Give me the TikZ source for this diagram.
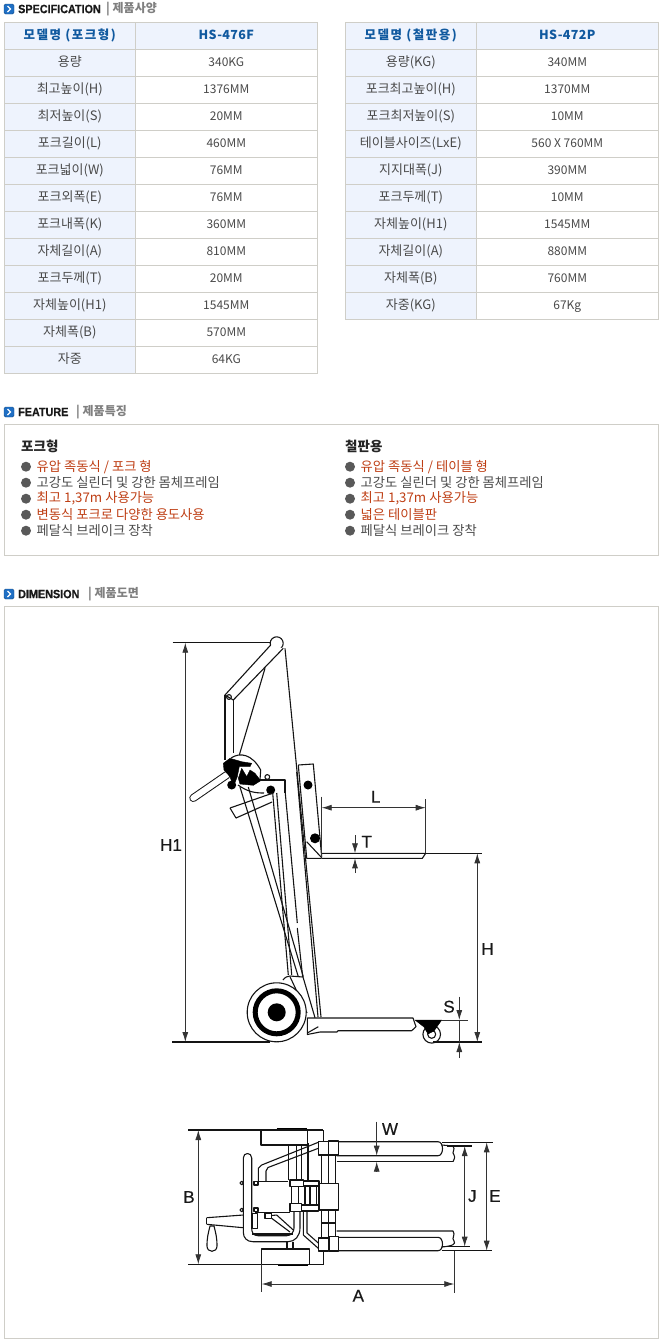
\documentclass[tikz,border=0pt]{standalone}
\usepackage{fontspec}
\setmainfont{Noto Sans CJK KR}
\newfontfamily\headfont[LetterSpace=12]{Noto Sans CJK KR}
\newfontfamily\headvalfont[LetterSpace=3]{Noto Sans CJK KR}
\newfontfamily\titlefont[FakeStretch=0.9,FakeBold=0.6]{Liberation Sans}
\newfontfamily\dimfont[FakeBold=0.5]{Liberation Sans}
\usetikzlibrary{arrows.meta}
\definecolor{cellline}{HTML}{CFCEC8}
\definecolor{cellfill}{HTML}{EEF3FD}
\definecolor{headblue}{HTML}{10599F}
\definecolor{bodygrey}{HTML}{4A4A4A}
\definecolor{featred}{HTML}{BE3E14}
\definecolor{iconblue}{HTML}{1F6FC4}
\tikzset{
    namecell/.style={draw=cellline, fill=cellfill, line width=1pt, inner sep=0pt,
    	minimum width=131pt, minimum height=27pt, text height=10pt, text depth=3.5pt,
    	text=bodygrey, font=\fontsize{13}{13}\selectfont}
}
\tikzset{
    valcell/.style={namecell, fill=white, minimum width=182pt, font=\fontsize{12}{12}\selectfont}
}
\tikzset{
    headname/.style={namecell, text=headblue, font=\headfont\fontsize{12.5}{12}\selectfont\bfseries}
}
\tikzset{
    headval/.style={valcell, fill=cellfill, text=headblue, font=\headvalfont\fontsize{12.5}{12}\selectfont\bfseries}
}
\tikzset{
    sectitle/.style={anchor=west, inner sep=0pt, text=black!90, font=\titlefont\fontsize{12}{12}\selectfont\bfseries},
    secsub/.style={anchor=west, inner sep=0pt, text=black!50, font=\fontsize{12}{12}\selectfont\bfseries},
    icon/.style={fill=iconblue, draw=iconblue!70!black, rounded corners=1.5pt, inner sep=0pt, minimum size=10pt},
    chevron/.style={draw=white, line width=1.2pt},
    frame/.style={draw=cellline, line width=1pt},
    feathead/.style={anchor=west, inner sep=0pt, text=black!85, font=\fontsize{13.5}{13.5}\selectfont\bfseries},
    greyline/.style={anchor=west, inner sep=0pt, text=bodygrey, font=\fontsize{13.3}{13.3}\selectfont},
    redline/.style={greyline, text=featred},
    bullet/.style={circle, fill=black!65, inner sep=0pt, minimum size=10pt},
    mech/.style={draw=black!92, line width=1.1pt, line join=round},
    solidpart/.style={fill=black, draw=black, line join=round},
    dimline/.style={draw=black!80, line width=.8pt},
    dimarrow/.style={dimline, -{Latex[length=10pt,width=6pt]}},
    dimboth/.style={dimline, {Latex[length=10pt,width=6pt]}-{Latex[length=10pt,width=6pt]}},
    dimlabel/.style={inner sep=0pt, text=black!90, font=\dimfont\fontsize{17}{17}\selectfont}
}

\begin{document}
\begin{tikzpicture}[x=1pt,y=-1pt]
	\useasboundingbox (0,0) rectangle (665,1344);

	\node (icon1) [icon] at (9,9) {};
	\draw [chevron] (7.5,6) -- (10.5,9) -- (7.5,12);
	\node (title1) [sectitle] at (18,9) {SPECIFICATION};
	\node (sub1) [secsub] at (106,9) {| 제품사양};

	\node (a0) [headname] at (69.8,35.8) {모델명 (포크형)};
	\node (av0) [headval] at (226.3,35.8) {HS-476F};
	\node (a1) [namecell] at (69.8,62.8) {용량};
	\node (av1) [valcell] at (226.3,62.8) {340KG};
	\node (a2) [namecell] at (69.8,89.8) {최고높이(H)};
	\node (av2) [valcell] at (226.3,89.8) {1376MM};
	\node (a3) [namecell] at (69.8,116.8) {최저높이(S)};
	\node (av3) [valcell] at (226.3,116.8) {20MM};
	\node (a4) [namecell] at (69.8,143.8) {포크길이(L)};
	\node (av4) [valcell] at (226.3,143.8) {460MM};
	\node (a5) [namecell] at (69.8,170.8) {포크넓이(W)};
	\node (av5) [valcell] at (226.3,170.8) {76MM};
	\node (a6) [namecell] at (69.8,197.8) {포크외폭(E)};
	\node (av6) [valcell] at (226.3,197.8) {76MM};
	\node (a7) [namecell] at (69.8,224.8) {포크내폭(K)};
	\node (av7) [valcell] at (226.3,224.8) {360MM};
	\node (a8) [namecell] at (69.8,251.8) {자체길이(A)};
	\node (av8) [valcell] at (226.3,251.8) {810MM};
	\node (a9) [namecell] at (69.8,278.8) {포크두께(T)};
	\node (av9) [valcell] at (226.3,278.8) {20MM};
	\node (a10) [namecell] at (69.8,305.8) {자체높이(H1)};
	\node (av10) [valcell] at (226.3,305.8) {1545MM};
	\node (a11) [namecell] at (69.8,332.8) {자체폭(B)};
	\node (av11) [valcell] at (226.3,332.8) {570MM};
	\node (a12) [namecell] at (69.8,359.8) {자중};
	\node (av12) [valcell] at (226.3,359.8) {64KG};

	\node (b0) [headname] at (410.8,35.8) {모델명 (철판용)};
	\node (bv0) [headval] at (567.3,35.8) {HS-472P};
	\node (b1) [namecell] at (410.8,62.8) {용량(KG)};
	\node (bv1) [valcell] at (567.3,62.8) {340MM};
	\node (b2) [namecell] at (410.8,89.8) {포크최고높이(H)};
	\node (bv2) [valcell] at (567.3,89.8) {1370MM};
	\node (b3) [namecell] at (410.8,116.8) {포크최저높이(S)};
	\node (bv3) [valcell] at (567.3,116.8) {10MM};
	\node (b4) [namecell] at (410.8,143.8) {테이블사이즈(LxE)};
	\node (bv4) [valcell] at (567.3,143.8) {560 X 760MM};
	\node (b5) [namecell] at (410.8,170.8) {지지대폭(J)};
	\node (bv5) [valcell] at (567.3,170.8) {390MM};
	\node (b6) [namecell] at (410.8,197.8) {포크두께(T)};
	\node (bv6) [valcell] at (567.3,197.8) {10MM};
	\node (b7) [namecell] at (410.8,224.8) {자체높이(H1)};
	\node (bv7) [valcell] at (567.3,224.8) {1545MM};
	\node (b8) [namecell] at (410.8,251.8) {자체길이(A)};
	\node (bv8) [valcell] at (567.3,251.8) {880MM};
	\node (b9) [namecell] at (410.8,278.8) {자체폭(B)};
	\node (bv9) [valcell] at (567.3,278.8) {760MM};
	\node (b10) [namecell] at (410.8,305.8) {자중(KG)};
	\node (bv10) [valcell] at (567.3,305.8) {67Kg};

	\node (icon2) [icon] at (9,412) {};
	\draw [chevron] (7.5,409) -- (10.5,412) -- (7.5,415);
	\node (title2) [sectitle] at (18,412) {FEATURE};
	\node (sub2) [secsub] at (76,412) {| 제품특징};
	\draw [frame] (4.3,424.3) rectangle (658.3,555.3);

	\node (fa) [feathead] at (21,446) {포크형};
	\node (fab1) [bullet] at (26,466.7) {};
	\node (fa1) [redline] at (36.5,466.7) {유압 족동식 / 포크 형};
	\node (fab2) [bullet] at (26,482.7) {};
	\node (fa2) [greyline] at (36.5,482.7) {고강도 실린더 및 강한 몸체프레임};
	\node (fab3) [bullet] at (26,498.7) {};
	\node (fa3) [redline] at (36.5,498.7) {최고 1,37m 사용가능};
	\node (fab4) [bullet] at (26,514.7) {};
	\node (fa4) [redline] at (36.5,514.7) {변동식 포크로 다양한 용도사용};
	\node (fab5) [bullet] at (26,530.7) {};
	\node (fa5) [greyline] at (36.5,530.7) {페달식 브레이크 장착};

	\node (fb) [feathead] at (345,446) {철판용};
	\node (fbb1) [bullet] at (350,466.7) {};
	\node (fb1) [redline] at (360.5,466.7) {유압 족동식 / 테이블 형};
	\node (fbb2) [bullet] at (350,482.7) {};
	\node (fb2) [greyline] at (360.5,482.7) {고강도 실린더 및 강한 몸체프레임};
	\node (fbb3) [bullet] at (350,498.7) {};
	\node (fb3) [redline] at (360.5,498.7) {최고 1,37m 사용가능};
	\node (fbb4) [bullet] at (350,514.7) {};
	\node (fb4) [redline] at (360.5,514.7) {넓은 테이블판};
	\node (fbb5) [bullet] at (350,530.7) {};
	\node (fb5) [greyline] at (360.5,530.7) {페달식 브레이크 장착};

	\node (icon3) [icon] at (9,594) {};
	\draw [chevron] (7.5,591) -- (10.5,594) -- (7.5,597);
	\node (title3) [sectitle] at (18,594) {DIMENSION};
	\node (sub3) [secsub] at (88,594) {| 제품도면};
	\draw [frame] (4.3,606.7) rectangle (658.3,1338);

	% side view
	\draw [mech] (276.7,643.3) circle (6.5);
	\draw [mech, fill=white] (270.7,645) -- (225,695) -- (233.3,700) -- (283.3,648.3);
	\draw [mech] (229,697) circle (2.4);
	\draw [mech] (225,695) -- (225,760);
	\draw [mech] (233.3,700) -- (233.3,753);
	\draw [mech] (265,668.3) -- (239.3,755);
	\draw [mech] (285,648.3) -- (321,1017);
	\draw [mech] (296.7,772) -- (318,1017);
	\draw [mech] (298.3,765) -- (313.3,764) -- (321.7,857);
	\draw [mech] (298.3,765) -- (306.7,858.3) -- (321.7,858.3);
	\draw [mech] (306.7,841.7) -- (321.7,857.7);
	\fill [black] (308,785) circle (4.5);
	\fill [black] (315,838.3) circle (5);
	\draw [mech] (321.7,853.3) -- (425.7,853.3) -- (422.3,858.3) -- (321.7,858.3);

	\draw [black!92, line width=8pt, line cap=round] (226.7,775) -- (193.3,798);
	\draw [white, line width=6pt, line cap=round] (226.7,775) -- (193.3,798);
	\draw [mech] (231,758) .. controls (240,752) and (252,754) .. (260.7,770) -- (260,780);
	\draw [solidpart] (223.3,763.3) -- (230,758.3) -- (241.7,761.7) -- (251.7,763.3) -- (250,766.7) -- (239.3,766.7) -- (237.3,776.7) -- (233.3,786.7) -- (230,776.7) -- (224,770) -- cycle;
	\draw [solidpart] (238.3,778.3) -- (241.7,768.3) -- (246.7,776.7) -- (250,770) -- (255,773.3) -- (260.7,780.7) -- (253.3,785.3) -- (240,784) -- cycle;
	\fill [black] (231.7,785) circle (4.5);
	\fill [black] (270.7,790) circle (4.5);
	\draw [mech] (267.3,777) circle (2.4);
	\draw [mech] (260,780) -- (285,780) -- (285,793);
	\draw [mech] (238,785) .. controls (248,792) and (255,793) .. (264,793);
	\draw [mech] (230,808) -- (273,793);
	\draw [mech] (230,808) -- (236,818) -- (272,802);

	\draw [mech] (240,787) -- (298.3,976.7);
	\draw [mech] (248.3,787) -- (303.3,976.7);
	\draw [mech] (272.7,793) -- (288.3,975);
	\draw [mech] (276.7,793) -- (291.7,975);
	\draw [mech] (285,790) -- (297.3,923);
	\draw [mech] (297.3,928) -- (302.7,977);
	\draw [mech] (283,980) .. controls (285,977) and (288,976) .. (290,976) -- (302.7,977);
	\draw [mech] (290,976.7) -- (307,1013);
	\draw [mech] (303,977) -- (315,1017.7);

	\draw [mech, fill=white] (276.7,1012.3) circle (29.5);
	\draw [black, line width=5pt] (276.7,1012.3) circle (21.5);
	\fill [black] (276.7,1012.3) circle (9);

	\draw [mech] (307.3,1018) -- (413,1018) -- (416,1026.7) -- (411.7,1030.7) -- (338,1030.7) -- (337,1032) -- (320,1032) -- (307.3,1034.5) -- cycle;
	\draw [mech] (307.3,1033) -- (318.3,1026.7);
	\draw [mech, fill=white] (431.7,1034.3) circle (8.8);
	\draw [mech] (431.7,1034.3) circle (4);
	\draw [solidpart] (415,1020) -- (441.7,1020) -- (434,1031) -- (428,1034) -- (424,1027) -- cycle;

	% dimensions of the side view
	\coordinate (h1top) at (185.3,642.7);
	\coordinate (h1bot) at (185.3,1042);
	\coordinate (h1ext) at (172.7,642.7);
	\coordinate (h1knob) at (270,642.7);
	\coordinate (gnd1) at (172,1042);
	\coordinate (gnd2) at (270,1042);
	\coordinate (gnd3) at (433,1042);
	\coordinate (gnd4) at (482,1042);
	\draw [mech] (h1ext) -- (h1knob);
	\draw [mech] (gnd1) -- (gnd2);
	\draw [mech] (gnd3) -- (gnd4);
	\draw [dimboth] (h1top) -- (h1bot);
	\node (h1lab) [dimlabel] at (171,845) {H1};

	\coordinate (lext1) at (321.7,796.7);
	\coordinate (lext2) at (321.7,857);
	\coordinate (rext1) at (425.7,799);
	\coordinate (rext2) at (425.7,853);
	\coordinate (llft) at (321.7,807.7);
	\coordinate (lrgt) at (425.7,807.7);
	\draw [dimline] (lext1) -- (lext2);
	\draw [dimline] (rext1) -- (rext2);
	\draw [dimboth] (llft) -- (lrgt);
	\node (llab) [dimlabel] at (375.7,796.7) {L};

	\coordinate (ttop) at (355,835);
	\coordinate (ttip) at (355,853.3);
	\coordinate (bbot) at (355,873);
	\coordinate (btip) at (355,858.3);
	\draw [dimarrow] (ttop) -- (ttip);
	\draw [dimarrow] (bbot) -- (btip);
	\node (tlab) [dimlabel] at (366.7,841.7) {T};

	\coordinate (forkend) at (425.7,853.3);
	\coordinate (hext) at (482,853.3);
	\coordinate (htop) at (477.3,853.3);
	\coordinate (hbot) at (477.3,1042);
	\draw [mech] (forkend) -- (hext);
	\draw [dimboth] (htop) -- (hbot);
	\node (hlab) [dimlabel] at (487.5,949) {H};

	\coordinate (stop) at (459.3,996.7);
	\coordinate (stip) at (459.3,1020);
	\coordinate (sbot) at (459.3,1058);
	\coordinate (sbtip) at (459.3,1042);
	\coordinate (sext1) at (441.7,1020);
	\coordinate (sext2) at (468,1020);
	\draw [dimline] (sext1) -- (sext2);
	\draw [dimarrow] (stop) -- (stip);
	\draw [dimarrow] (sbot) -- (sbtip);
	\draw [dimline] (stip) -- (sbtip);
	\node (slab) [dimlabel] at (449,1006.7) {S};

	% top view
	\draw [mech] (261,1130) rectangle (307.7,1145);
	\draw [black, line width=1.8pt] (276.7,1128.5) -- (306.7,1128.5);
	\draw [mech] (323.3,1130) -- (323.3,1142);
	\draw [mech] (261.7,1249) rectangle (309.3,1264.3);
	\draw [black, line width=1.8pt] (278,1265) -- (308,1265);
	\draw [mech] (323.5,1252) -- (323.5,1264.3);

	\draw [mech] (338,1141.7) -- (438,1141.7) .. controls (444,1141.7) and (444,1155.7) .. (438,1155.7) -- (336.7,1155.7);
	\draw [mech] (336.7,1161.7) -- (453,1161.7);
	\draw [mech] (441.7,1145) -- (453,1146) .. controls (456,1150) and (451,1152) .. (454,1155) .. controls (456,1158) and (453,1160) .. (453,1161.7);
	\draw [mech] (336.7,1231) -- (453,1231) .. controls (456,1235) and (451,1238) .. (454,1241) .. controls (456,1244) and (453,1246) .. (441.7,1247);
	\draw [mech] (338,1237.3) -- (438,1237.3) .. controls (444,1237.3) and (444,1250.7) .. (438,1250.7) -- (338,1250.7);

	\draw [mech] (318.3,1141.7) rectangle (328.3,1155);
	\draw [mech] (328.3,1141) rectangle (338.3,1155);
	\draw [mech] (318.3,1238) rectangle (328.3,1251);
	\draw [mech] (329,1236.5) rectangle (338.3,1251);
	\draw [mech] (319,1183.3) rectangle (338.3,1210);
	\draw [mech] (321.7,1155) -- (321.7,1183.3);
	\draw [mech] (335.7,1155) -- (335.7,1183.3);
	\draw [mech] (328.3,1155) -- (328.3,1183.3);
	\draw [mech] (321.7,1210) -- (321.7,1238);
	\draw [mech] (335.7,1210) -- (335.7,1236.5);
	\draw [mech] (328.3,1210) -- (328.3,1238);
	\draw [mech] (321.7,1223) -- (335.7,1223);

	\draw [mech] (318.3,1142.3) -- (261.7,1165) -- (258.3,1168.3) -- (258.3,1183);
	\draw [mech] (318.3,1148.3) -- (268,1167.5) -- (266,1171) -- (266,1181);
	\draw [mech] (243.3,1232) -- (243.3,1158) .. controls (243.3,1152) and (251.7,1152) .. (251.7,1158) -- (251.7,1228) .. controls (251.7,1232) and (253,1235.7) .. (258,1235.7) -- (286.7,1235.7) .. controls (291,1235.7) and (294,1232) .. (294,1228) -- (294,1211.7);
	\draw [mech] (243.3,1232) .. controls (243.3,1238) and (247,1241.7) .. (253,1241.7) -- (288,1241.7) .. controls (295,1241.7) and (300,1236) .. (300,1228) -- (300,1211.7);
	\draw [mech] (255,1181.7) -- (288.3,1181.7);
	\draw [mech] (255,1212.3) -- (290,1212.3);
	\draw [mech] (290,1180) rectangle (303.3,1186.7);
	\draw [mech] (303.3,1181) rectangle (319,1186);
	\draw [mech] (290,1203.3) rectangle (301.7,1211.7);
	\draw [mech] (301.7,1205) rectangle (318.3,1211);
	\draw [mech] (291.7,1186.7) -- (291.7,1203.3);
	\draw [mech] (298.3,1186.7) -- (298.3,1203.3);
	\draw [mech] (305,1186) -- (305,1205);
	\draw [mech] (310,1186) -- (310,1205);
	\draw [mech] (316.7,1186) -- (316.7,1205);
	\draw [mech] (288.3,1145) -- (288.3,1180);
	\draw [mech] (296.7,1145) -- (296.7,1180);
	\draw [mech] (301.7,1145) -- (301.7,1180);
	\draw [mech] (308,1143) -- (308,1181);
	\draw [mech] (287,1241.7) -- (287,1249);
	\draw [mech] (293,1241.7) -- (293,1249);
	\draw [mech] (303.3,1211) -- (303.3,1235) -- (318.3,1248.3);
	\draw [mech] (307,1211) -- (307,1233) -- (318.3,1243);

	\draw [mech] (206.7,1217.7) -- (243.3,1215);
	\draw [mech] (206.7,1224.3) -- (243.3,1227.7);
	\draw [mech] (206.7,1217.7) -- (206.7,1224.3);
	\draw [mech] (210,1226) -- (214,1226) .. controls (216,1234) and (217,1238) .. (217,1246) .. controls (217,1253) and (207,1253) .. (207,1246) .. controls (207,1238) and (208,1234) .. (210,1226) -- cycle;
	\draw [mech] (241.7,1183) circle (1.8);
	\draw [mech] (241.7,1210) circle (1.8);
	\draw [mech] (254,1181.5) rectangle (258,1185);
	\draw [mech] (254,1208) rectangle (258,1211.5);
	\draw [mech] (252.7,1213.3) rectangle (257.3,1228.3);
	\draw [mech] (276.7,1215) -- (293.3,1230);
	\draw [mech] (265,1213) rectangle (271.7,1218.3);
	\draw [mech] (271.7,1215.5) -- (276.7,1215);
	\draw [mech] (252,1234) -- (293,1234);
	\draw [mech] (271.7,1218.3) -- (290,1232);

	% dimensions of the top view
	\coordinate (btop1) at (188.3,1130);
	\coordinate (btop2) at (323.3,1130);
	\coordinate (bbot1) at (188.3,1264.3);
	\coordinate (bbot2) at (323.5,1264.3);
	\coordinate (blow) at (198.3,1130);
	\coordinate (bhigh) at (198.3,1264.3);
	\draw [mech] (btop1) -- (btop2);
	\draw [mech] (bbot1) -- (bbot2);
	\draw [dimboth] (blow) -- (bhigh);
	\node (blab) [dimlabel] at (189,1197) {B};

	\coordinate (wtop) at (376.7,1121.7);
	\coordinate (wtip) at (376.7,1155.7);
	\coordinate (wbot) at (376.7,1171.7);
	\coordinate (wbtip) at (376.7,1161.7);
	\draw [dimarrow] (wtop) -- (wtip);
	\draw [dimarrow] (wbot) -- (wbtip);
	\node (wlab) [dimlabel] at (390,1129) {W};

	\coordinate (eup1) at (441.7,1142.3);
	\coordinate (eup2) at (492.7,1142.3);
	\coordinate (elo1) at (441.7,1250.7);
	\coordinate (elo2) at (492,1250.7);
	\coordinate (jup1) at (446.7,1146);
	\coordinate (jup2) at (471.7,1146);
	\coordinate (jlo1) at (441.7,1246.7);
	\coordinate (jlo2) at (470,1246.7);
	\draw [mech] (eup1) -- (eup2);
	\draw [mech] (elo1) -- (elo2);
	\draw [mech] (jup1) -- (jup2);
	\draw [mech] (jlo1) -- (jlo2);
	\coordinate (jhigh) at (464.7,1146);
	\coordinate (jlow) at (464.7,1246.7);
	\coordinate (ehigh) at (486.7,1142.3);
	\coordinate (elow) at (486.7,1250.7);
	\draw [dimboth] (jhigh) -- (jlow);
	\draw [dimboth] (ehigh) -- (elow);
	\node (jlab) [dimlabel] at (472.3,1196) {J};
	\node (elab) [dimlabel] at (495,1196) {E};

	\coordinate (aext1) at (261.7,1264.3);
	\coordinate (aext2) at (261.7,1291.7);
	\coordinate (aext3) at (454.3,1250.7);
	\coordinate (aext4) at (454.3,1293);
	\coordinate (alft) at (261.7,1284);
	\coordinate (argt) at (454.3,1284);
	\draw [dimline] (aext1) -- (aext2);
	\draw [dimline] (aext3) -- (aext4);
	\draw [dimboth] (alft) -- (argt);
	\node (alab) [dimlabel] at (358.3,1295.7) {A};
\end{tikzpicture}
\end{document}
